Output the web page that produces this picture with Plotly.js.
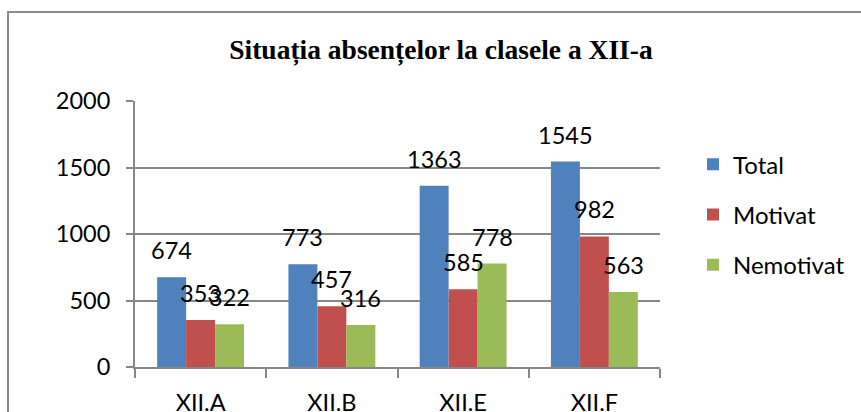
<!DOCTYPE html>
<html>
<head>
<meta charset="utf-8">
<script src="https://cdn.plot.ly/plotly-3.0.1.min.js"></script>
<style>
  html, body { margin: 0; padding: 0; background: #fff; overflow: hidden; }
  #chart { width: 861px; height: 412px; position: absolute; left: 0; top: 0; }
  #frame { position: absolute; left: 7px; top: 11px; width: 1000px; height: 600px;
           border-left: 2px solid #8a8a8a; border-top: 2px solid #8a8a8a; pointer-events: none; }
</style>
</head>
<body>
<div id="chart"></div>
<div id="frame"></div>
<script>
const categories = ["XII.A", "XII.B", "XII.E", "XII.F"];
const seriesNames = ["Total", "Motivat", "Nemotivat"];
const total = [674, 773, 1363, 1545];
const motivat = [353, 457, 585, 982];
const nemotivat = [322, 316, 778, 563];
const yTicks = [0, 500, 1000, 1500, 2000];
const titleText = "Situația absențelor la clasele a XII-a";

const colors = ["#4F81BD", "#C0504D", "#9BBB59"];
const seriesValues = [total, motivat, nemotivat];
const font = "Lato, 'Open Sans', sans-serif";
const bargap = 0.338;
const barW = (1 - bargap) / 3;

const traces = seriesValues.map((vals, j) => ({
  type: "bar",
  name: seriesNames[j],
  x: categories,
  y: vals,
  marker: { color: colors[j], line: { width: 0 } },
  legendgroup: "g" + j,
  hoverinfo: "none"
}));

const annotations = [];
seriesValues.forEach((vals, j) => {
  vals.forEach((v, i) => {
    annotations.push({
      xref: "x", yref: "y",
      x: i + (j - 1) * barW, y: v,
      text: String(v),
      showarrow: false,
      xanchor: "center", yanchor: "middle",
      yshift: 27,
      font: { family: font, size: 23.5, color: "#000" }
    });
  });
});

const layout = {
  width: 861, height: 412,
  margin: { l: 135, r: 200, t: 101, b: 45 },
  paper_bgcolor: "rgba(0,0,0,0)",
  plot_bgcolor: "#fff",
  barmode: "group",
  bargap: bargap,
  bargroupgap: 0,
  title: {
    text: "<b>" + titleText + "</b>",
    font: { family: "'Liberation Serif', 'Times New Roman', serif", size: 27.5, color: "#000" },
    xref: "container", x: 441 / 861, xanchor: "center",
    yref: "container", y: 1 - 49 / 412, yanchor: "middle"
  },
  xaxis: {
    type: "category",
    showgrid: false,
    showline: true, linecolor: "#878787", linewidth: 2,
    ticks: "outside", tickson: "boundaries", ticklen: 9, tickwidth: 2, tickcolor: "#878787",
    ticklabelstandoff: 14,
    tickfont: { family: font, size: 23.5, color: "#000" },
    zeroline: false, fixedrange: true
  },
  yaxis: {
    range: [0, 2000],
    tickvals: yTicks,
    ticktext: yTicks.map(String),
    showgrid: true, gridcolor: "#878787", gridwidth: 2,
    showline: true, linecolor: "#878787", linewidth: 2,
    ticks: "outside", ticklen: 7, tickwidth: 2, tickcolor: "#878787",
    ticklabelstandoff: 11,
    tickfont: { family: font, size: 23.5, color: "#000" },
    zeroline: false, fixedrange: true
  },
  legend: {
    x: (693 - 135) / 526, xanchor: "left",
    y: 0.845, yanchor: "top",
    traceorder: "grouped",
    tracegroupgap: 16,
    font: { family: font, size: 24, color: "#000" },
    bgcolor: "rgba(0,0,0,0)"
  },
  annotations: annotations,
  showlegend: true
};

Plotly.newPlot("chart", traces, layout, { displayModeBar: false, staticPlot: true });
</script>
</body>
</html>
